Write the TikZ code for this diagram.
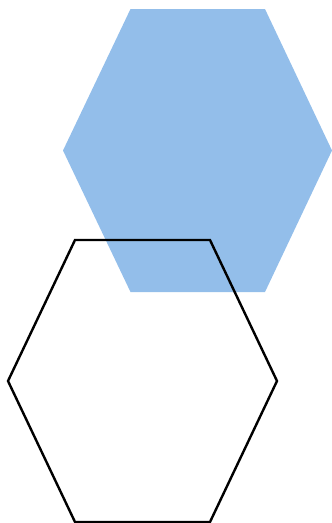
\documentclass[tikz,border=0pt]{standalone}
\definecolor{hexblue}{HTML}{93BEEA}
\begin{document}
\begin{tikzpicture}[x=1pt,y=-1pt,
  bluehex/.style={fill=hexblue,draw=none},
  linehex/.style={draw=black,line width=2.4pt,line join=miter}]
\useasboundingbox (0,0) rectangle (332,523);
\fill[bluehex] (130.5,9) -- (265,9) -- (332,150.5) -- (265,292) -- (130.5,292) -- (63,150.5) -- cycle;
\draw[linehex] (75,240) -- (210,240) -- (277,381) -- (210,522) -- (75,522) -- (8,381) -- cycle;
\end{tikzpicture}
\end{document}
